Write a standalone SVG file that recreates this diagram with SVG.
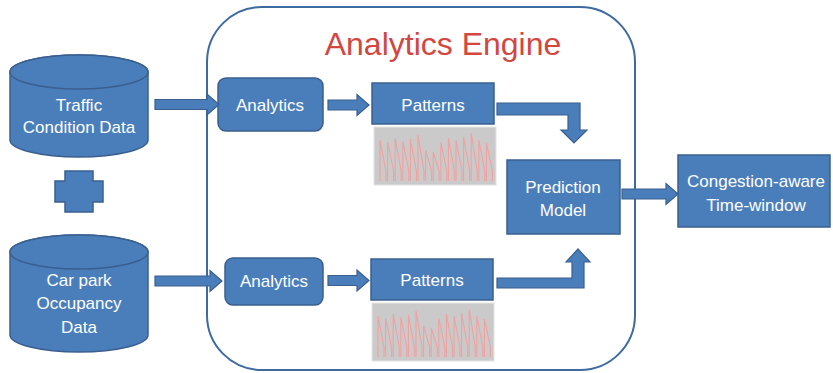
<svg xmlns="http://www.w3.org/2000/svg" width="833" height="373" viewBox="0 0 833 373">
<style>
.node{fill:#4a7ebb;stroke:#3a5f8e;stroke-width:1.5}
.arrow{fill:#4a7ebb;stroke:#3a5f8e;stroke-width:1.2}
.lbl{font-family:"Liberation Sans",Arial,sans-serif;font-size:17px;fill:#ffffff;text-anchor:middle}
.title{font-family:"Liberation Sans",Arial,sans-serif;font-size:32px;fill:#d2473f;text-anchor:middle}
.container{fill:#ffffff;stroke:#3d6aa0;stroke-width:2}
.chartbg{fill:#cacaca;stroke:#e4e4e4;stroke-width:1}
.spikes{fill:none;stroke:#f2a0a0;stroke-width:1.1}
</style>
<defs>
<g id="chart">
<rect class="chartbg" x="0" y="0" width="122" height="58"/>
<path class="spikes" d="M6 54 L6 13 L12 44 L12 54 M13.6 54 L13.6 15 L19.6 44 L19.6 54 M21.2 54 L21.2 11 L27.2 44 L27.2 54 M28.8 54 L28.8 14 L34.8 44 L34.8 54 M36.4 54 L36.4 12 L42.4 44 L42.4 54 M44 54 L44 8 L50 44 L50 54 M51.6 54 L51.6 23 L57.6 44 L57.6 54 M59.2 54 L59.2 25 L65.2 44 L65.2 54 M66.8 54 L66.8 15 L72.8 44 L72.8 54 M74.4 54 L74.4 11 L80.4 44 L80.4 54 M82 54 L82 13 L88 44 L88 54 M89.6 54 L89.6 10 L95.6 44 L95.6 54 M97.2 54 L97.2 6 L103.2 44 L103.2 54 M104.8 54 L104.8 13 L110.8 44 L110.8 54 M112.4 54 L112.4 16 L118.4 44 L118.4 54"/>
</g>
</defs>
<rect width="833" height="373" fill="#ffffff"/>

<g id="analytics-engine">
<rect class="container" x="207" y="7" width="428" height="363" rx="55" ry="55"/>
<text class="title" x="443" y="55">Analytics Engine</text>
</g>

<g id="traffic-data">
<path class="node" d="M10 72 A69 17 0 0 1 148 72 L148 140 A69 17 0 0 1 10 140 Z"/>
<ellipse class="node" cx="79" cy="72" rx="69" ry="17"/>
<text class="lbl" x="79" y="111">Traffic</text>
<text class="lbl" x="79" y="133">Condition Data</text>
</g>

<g id="plus">
<path class="node" d="M65 171 L93 171 L93 181 L103 181 L103 202 L93 202 L93 212 L65 212 L65 202 L55 202 L55 181 L65 181 Z"/>
</g>

<g id="carpark-data">
<path class="node" d="M10 252 A69 17 0 0 1 148 252 L148 335 A69 17 0 0 1 10 335 Z"/>
<ellipse class="node" cx="79" cy="252" rx="69" ry="17"/>
<text class="lbl" x="79" y="286">Car park</text>
<text class="lbl" x="79" y="309">Occupancy</text>
<text class="lbl" x="79" y="333">Data</text>
</g>

<g id="analytics1">
<rect class="node" x="218" y="78" width="105" height="53" rx="8" ry="8"/>
<text class="lbl" x="270" y="111">Analytics</text>
</g>

<g id="analytics2">
<rect class="node" x="225" y="258" width="98" height="47" rx="8" ry="8"/>
<text class="lbl" x="274" y="287">Analytics</text>
</g>

<g id="patterns1">
<rect class="node" x="372" y="83" width="122" height="41"/>
<text class="lbl" x="433" y="111">Patterns</text>
<use href="#chart" x="374" y="127"/>
</g>

<g id="patterns2">
<rect class="node" x="371" y="259" width="122" height="41"/>
<text class="lbl" x="432" y="286">Patterns</text>
<use href="#chart" x="372" y="303"/>
</g>

<g id="prediction-model">
<rect class="node" x="507" y="160" width="113" height="74"/>
<text class="lbl" x="563" y="193">Prediction</text>
<text class="lbl" x="563" y="216">Model</text>
</g>

<g id="congestion-window">
<rect class="node" x="678" y="155" width="152" height="72"/>
<text class="lbl" x="756" y="187">Congestion-aware</text>
<text class="lbl" x="756" y="211">Time-window</text>
</g>

<g id="connectors">
<path class="arrow" d="M155 99.5 L207 99.5 L207 94 L219 104.5 L207 115 L207 109.5 L155 109.5 Z"/>
<path class="arrow" d="M155 276 L210 276 L210 270.5 L222 281 L210 291.5 L210 286 L155 286 Z"/>
<path class="arrow" d="M328 100 L357 100 L357 94.5 L369 105 L357 115.5 L357 110 L328 110 Z"/>
<path class="arrow" d="M328 275.5 L357 275.5 L357 270 L369 280.5 L357 291 L357 285.5 L328 285.5 Z"/>
<path class="arrow" d="M497 103 L580 103 L580 130 L587 130 L574 143 L561 130 L568 130 L568 115 L497 115 Z"/>
<path class="arrow" d="M497 278 L572 278 L572 262 L566 262 L578 249 L590 262 L584 262 L584 288 L497 288 Z"/>
<path class="arrow" d="M622 189 L666 189 L666 183.5 L678 194 L666 204.5 L666 199 L622 199 Z"/>
</g>
</svg>
